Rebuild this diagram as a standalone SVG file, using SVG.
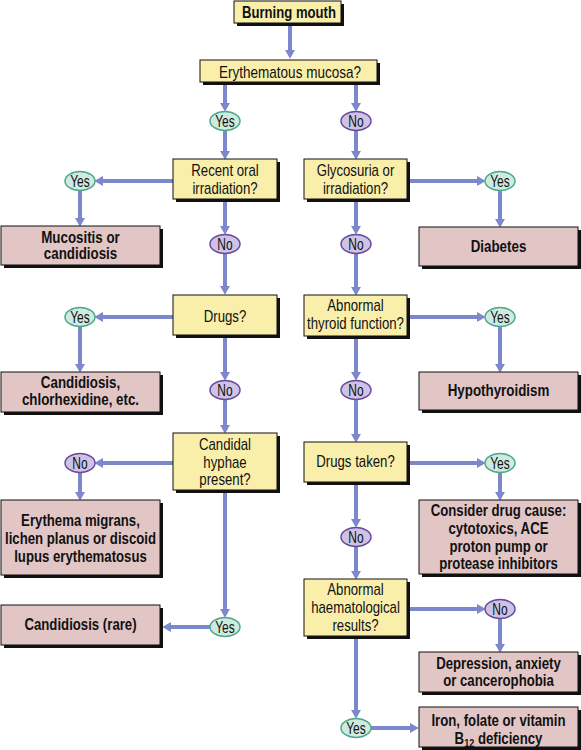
<svg xmlns="http://www.w3.org/2000/svg" width="581" height="750" viewBox="0 0 581 750">
<style>
.q rect.b{fill:#f9efab;stroke:#111;stroke-width:1}
.r rect.b{fill:#e2c6c6;stroke:#111;stroke-width:1}
rect.s{fill:#111}
text{font-family:"Liberation Sans",Arial,sans-serif;font-size:16px;fill:#111;text-anchor:middle}
.r text,.bold{font-weight:bold}
.yes ellipse{fill:#cfeadf;stroke:#4fa88a;stroke-width:1.5}
.no ellipse{fill:#cdc3e6;stroke:#6a4a9e;stroke-width:1.5}
#connectors path{stroke:#7d88cc;stroke-width:4;fill:none;marker-end:url(#ah)}
</style>
<defs>
<marker id="ah" markerUnits="userSpaceOnUse" markerWidth="9" markerHeight="10" refX="1" refY="4.5" orient="auto" viewBox="0 0 8 9">
<path d="M0,0 L8,4.5 L0,9 z" fill="#7d88cc"/>
</marker>
</defs>
<rect width="581" height="750" fill="#fff"/>
<g id="connectors">
<path d="M290,23 V51"/>
<path d="M225,82 V104"/>
<path d="M356,82 V104"/>
<path d="M225,131 V152"/>
<path d="M356,131 V152"/>
<path d="M173,181 H102"/>
<path d="M80,190 V219"/>
<path d="M225,199 V227"/>
<path d="M225,254 V287"/>
<path d="M407,181 H478"/>
<path d="M500,190 V220"/>
<path d="M356,199 V227"/>
<path d="M356,254 V288"/>
<path d="M173,317 H102"/>
<path d="M80,327 V365"/>
<path d="M225,335 V373"/>
<path d="M225,400 V426"/>
<path d="M407,317 H478"/>
<path d="M500,327 V365"/>
<path d="M356,336 V373"/>
<path d="M356,400 V435"/>
<path d="M173,463 H102"/>
<path d="M80,473 V493"/>
<path d="M225,490 V610"/>
<path d="M210,627 H170"/>
<path d="M407,463 H478"/>
<path d="M500,473 V493"/>
<path d="M356,482 V520"/>
<path d="M356,547 V572"/>
<path d="M407,609 H478"/>
<path d="M500,619 V645"/>
<path d="M356,636 V711"/>
<path d="M371,728 H411"/>
</g>
<g id="n-burning" class="q"><rect class="s" x="237" y="4" width="107" height="22"/><rect class="b" x="234" y="1" width="107" height="22"/><text class="bold" transform="translate(289,17.5) scale(0.82,1)">Burning mouth</text></g>
<g id="n-erythematous" class="q"><rect class="s" x="203" y="63" width="177" height="22"/><rect class="b" x="200" y="60" width="177" height="22"/><text transform="translate(290,77.5) scale(0.845,1)">Erythematous mucosa?</text></g>
<g id="n-recent" class="q"><rect class="s" x="176" y="162" width="104" height="40"/><rect class="b" x="173" y="159" width="104" height="40"/><text transform="translate(225,176) scale(0.825,1)">Recent oral</text><text transform="translate(225,194) scale(0.825,1)">irradiation?</text></g>
<g id="n-glyco" class="q"><rect class="s" x="307" y="162" width="103" height="40"/><rect class="b" x="304" y="159" width="103" height="40"/><text transform="translate(355.5,176) scale(0.825,1)">Glycosuria or</text><text transform="translate(355.5,194) scale(0.825,1)">irradiation?</text></g>
<g id="n-drugs" class="q"><rect class="s" x="176" y="298" width="104" height="40"/><rect class="b" x="173" y="295" width="104" height="40"/><text transform="translate(225,321.5) scale(0.825,1)">Drugs?</text></g>
<g id="n-thyroid" class="q"><rect class="s" x="307" y="298" width="103" height="41"/><rect class="b" x="304" y="295" width="103" height="41"/><text transform="translate(355.5,311) scale(0.825,1)">Abnormal</text><text transform="translate(355.5,329) scale(0.825,1)">thyroid function?</text></g>
<g id="n-candidal" class="q"><rect class="s" x="176" y="436" width="104" height="57"/><rect class="b" x="173" y="433" width="104" height="57"/><text transform="translate(225,450) scale(0.825,1)">Candidal</text><text transform="translate(225,467.5) scale(0.825,1)">hyphae</text><text transform="translate(225,485) scale(0.825,1)">present?</text></g>
<g id="n-drugstaken" class="q"><rect class="s" x="307" y="445" width="103" height="40"/><rect class="b" x="304" y="442" width="103" height="40"/><text transform="translate(355.5,467) scale(0.825,1)">Drugs taken?</text></g>
<g id="n-haem" class="q"><rect class="s" x="307" y="582" width="103" height="57"/><rect class="b" x="304" y="579" width="103" height="57"/><text transform="translate(355.5,595) scale(0.825,1)">Abnormal</text><text transform="translate(355.5,613) scale(0.825,1)">haematological</text><text transform="translate(355.5,631) scale(0.825,1)">results?</text></g>
<g id="n-mucositis" class="r"><rect class="s" x="4" y="229" width="159" height="39"/><rect class="b" x="1" y="226" width="159" height="39"/><text transform="translate(80.5,243) scale(0.835,1)">Mucositis or</text><text transform="translate(80.5,259) scale(0.835,1)">candidiosis</text></g>
<g id="n-diabetes" class="r"><rect class="s" x="422" y="230" width="159" height="39"/><rect class="b" x="419" y="227" width="159" height="39"/><text transform="translate(498.5,252) scale(0.835,1)">Diabetes</text></g>
<g id="n-candidiosis" class="r"><rect class="s" x="4" y="375" width="159" height="40"/><rect class="b" x="1" y="372" width="159" height="40"/><text transform="translate(80.5,388) scale(0.835,1)">Candidiosis,</text><text transform="translate(80.5,405) scale(0.835,1)">chlorhexidine, etc.</text></g>
<g id="n-hypo" class="r"><rect class="s" x="422" y="375" width="159" height="38"/><rect class="b" x="419" y="372" width="159" height="38"/><text transform="translate(498.5,396) scale(0.835,1)">Hypothyroidism</text></g>
<g id="n-erythema" class="r"><rect class="s" x="4" y="503" width="159" height="75"/><rect class="b" x="1" y="500" width="159" height="75"/><text transform="translate(80.5,526) scale(0.825,1)">Erythema migrans,</text><text transform="translate(80.5,544) scale(0.825,1)">lichen planus or discoid</text><text transform="translate(80.5,562) scale(0.825,1)">lupus erythematosus</text></g>
<g id="n-consider" class="r"><rect class="s" x="422" y="503" width="159" height="74"/><rect class="b" x="419" y="500" width="159" height="74"/><text transform="translate(498.5,516) scale(0.825,1)">Consider drug cause:</text><text transform="translate(498.5,534) scale(0.825,1)">cytotoxics, ACE</text><text transform="translate(498.5,551.5) scale(0.825,1)">proton pump or</text><text transform="translate(498.5,569) scale(0.825,1)">protease inhibitors</text></g>
<g id="n-rare" class="r"><rect class="s" x="4" y="608" width="159" height="40"/><rect class="b" x="1" y="605" width="159" height="40"/><text transform="translate(80.5,630) scale(0.825,1)">Candidiosis (rare)</text></g>
<g id="n-depression" class="r"><rect class="s" x="422" y="655" width="159" height="40"/><rect class="b" x="419" y="652" width="159" height="40"/><text transform="translate(498.5,669) scale(0.825,1)">Depression, anxiety</text><text transform="translate(498.5,686) scale(0.825,1)">or cancerophobia</text></g>
<g id="n-iron" class="r"><rect class="s" x="422" y="710" width="159" height="40"/><rect class="b" x="419" y="707" width="159" height="40"/><text transform="translate(498.5,726) scale(0.825,1)">Iron, folate or vitamin</text><text transform="translate(498.5,744) scale(0.825,1)">B<tspan font-size="11" dy="3">12</tspan><tspan dy="-3"> deficiency</tspan></text></g>
<g id="o-yes1" class="yes"><ellipse cx="225" cy="121" rx="15" ry="9.5"/><text transform="translate(225,126.5) scale(0.75,1)">Yes</text></g>
<g id="o-no1" class="no"><ellipse cx="356" cy="121" rx="15" ry="9.5"/><text transform="translate(356,126.5) scale(0.75,1)">No</text></g>
<g id="o-yes2" class="yes"><ellipse cx="80" cy="181" rx="15" ry="9.5"/><text transform="translate(80,186.5) scale(0.75,1)">Yes</text></g>
<g id="o-no2" class="no"><ellipse cx="225" cy="244" rx="15" ry="9.5"/><text transform="translate(225,249.5) scale(0.75,1)">No</text></g>
<g id="o-yes3" class="yes"><ellipse cx="500" cy="181" rx="15" ry="9.5"/><text transform="translate(500,186.5) scale(0.75,1)">Yes</text></g>
<g id="o-no3" class="no"><ellipse cx="356" cy="244" rx="15" ry="9.5"/><text transform="translate(356,249.5) scale(0.75,1)">No</text></g>
<g id="o-yes4" class="yes"><ellipse cx="80" cy="317" rx="15" ry="9.5"/><text transform="translate(80,322.5) scale(0.75,1)">Yes</text></g>
<g id="o-no4" class="no"><ellipse cx="225" cy="390" rx="15" ry="9.5"/><text transform="translate(225,395.5) scale(0.75,1)">No</text></g>
<g id="o-yes5" class="yes"><ellipse cx="500" cy="317" rx="15" ry="9.5"/><text transform="translate(500,322.5) scale(0.75,1)">Yes</text></g>
<g id="o-no5" class="no"><ellipse cx="356" cy="390" rx="15" ry="9.5"/><text transform="translate(356,395.5) scale(0.75,1)">No</text></g>
<g id="o-no6" class="no"><ellipse cx="80" cy="463" rx="15" ry="9.5"/><text transform="translate(80,468.5) scale(0.75,1)">No</text></g>
<g id="o-yes6" class="yes"><ellipse cx="500" cy="463" rx="15" ry="9.5"/><text transform="translate(500,468.5) scale(0.75,1)">Yes</text></g>
<g id="o-no7" class="no"><ellipse cx="356" cy="537" rx="15" ry="9.5"/><text transform="translate(356,542.5) scale(0.75,1)">No</text></g>
<g id="o-yes7" class="yes"><ellipse cx="225" cy="627" rx="15" ry="9.5"/><text transform="translate(225,632.5) scale(0.75,1)">Yes</text></g>
<g id="o-no8" class="no"><ellipse cx="500" cy="609" rx="15" ry="9.5"/><text transform="translate(500,614.5) scale(0.75,1)">No</text></g>
<g id="o-yes8" class="yes"><ellipse cx="356" cy="728" rx="15" ry="9.5"/><text transform="translate(356,733.5) scale(0.75,1)">Yes</text></g>
</svg>
